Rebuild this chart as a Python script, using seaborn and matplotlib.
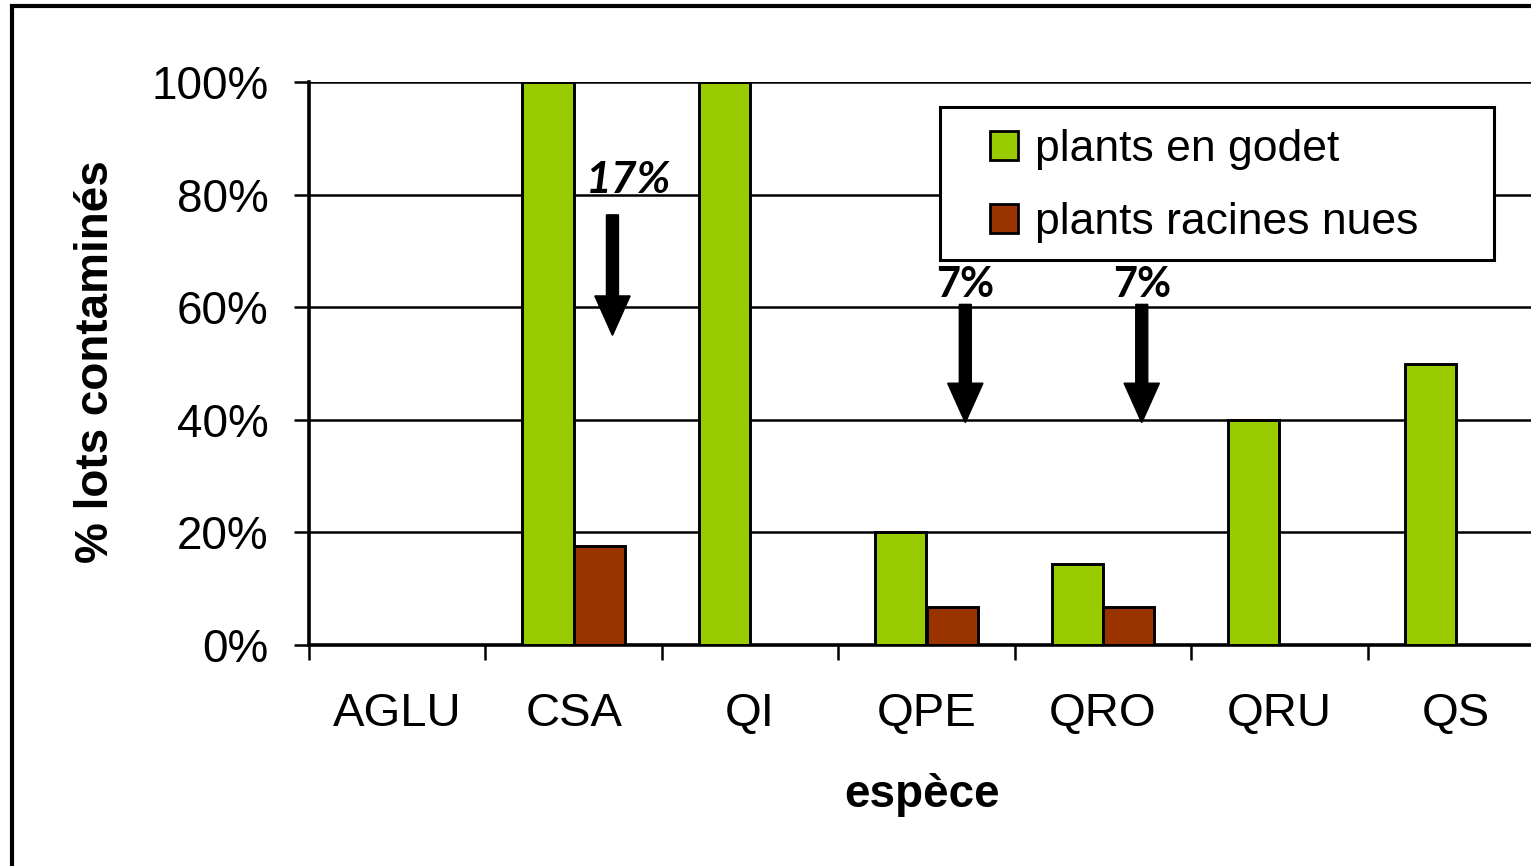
import pandas as pd
import matplotlib.pyplot as plt
import seaborn as sns
from matplotlib.patches import Rectangle, Patch

# données
especes = ['AGLU', 'CSA', 'QI', 'QPE', 'QRO', 'QRU', 'QS']
godet = [0, 100, 100, 20, 14.3, 40, 50]
racines_nues = [0, 17.6, 0, 6.7, 6.7, 0, 0]
series = ['plants en godet', 'plants racines nues']
couleurs = ['#99CC00', '#993300']
# annotations : (espèce, texte, italique)
notes = [('CSA', '17%', True), ('QPE', '7%', False), ('QRO', '7%', False)]

df = pd.DataFrame({
    'espece': especes * 2,
    'valeur': godet + racines_nues,
    'type': [series[0]] * len(especes) + [series[1]] * len(especes),
})

sns.set_style('white')
plt.rcParams['font.family'] = ['Liberation Sans', 'DejaVu Sans']
plt.rcParams['text.color'] = 'black'
plt.rcParams['axes.labelcolor'] = 'black'
plt.rcParams['xtick.color'] = 'black'
plt.rcParams['ytick.color'] = 'black'

W, H = 1531, 866
fig = plt.figure(figsize=(W / 100, H / 100), dpi=100)
ax = fig.add_axes([309 / W, 1 - 645 / H, 1235 / W, 563 / H])

sns.barplot(data=df, x='espece', y='valeur', hue='type', order=especes,
            hue_order=series, palette=couleurs, width=0.58,
            edgecolor='black', linewidth=2.1, saturation=1, ax=ax, zorder=3)

ax.set_ylim(0, 100)
ax.set_xlim(-0.5, len(especes) - 0.5)
ax.set_yticks(range(0, 101, 20))
ax.set_yticklabels([f'{v}%' for v in range(0, 101, 20)])
ax.yaxis.grid(True, color='black', linewidth=1.8, zorder=0)
ax.set_axisbelow(True)

# ticks entre les catégories
ax.set_xticks([i - 0.5 for i in range(len(especes) + 1)], minor=True)
ax.tick_params(axis='x', which='major', length=0, pad=34, labelsize=34)
ax.tick_params(axis='x', which='minor', length=11, width=1.8, direction='out',
               bottom=True, color='black')
ax.tick_params(axis='y', length=11, width=1.8, direction='out', left=True,
               color='black', pad=18, labelsize=33)

for side in ['top', 'right']:
    ax.spines[side].set_visible(False)
for side in ['left', 'bottom']:
    ax.spines[side].set_color('black')
    ax.spines[side].set_linewidth(2.6)

ax.set_xlabel('espèce', fontsize=33, fontweight='bold')
ax.set_ylabel('% lots contaminés', fontsize=33, fontweight='bold')
ax.xaxis.label.set_va('center')
ax.yaxis.label.set_va('center')
ax.xaxis.set_label_coords((922 - 309) / 1235, -(795 - 645) / 563)
ax.yaxis.set_label_coords(-(309 - 96) / 1235, (645 - 362) / 563)

# flèches et étiquettes
for esp, txt, ital in notes:
    i = especes.index(esp)
    if ital:
        ax.text(i + 0.31, 82.6, txt, fontsize=32, fontweight='bold', style='italic',
                family=['Lato', 'DejaVu Sans'], ha='center', va='center', zorder=5)
        y0, y1 = 76.4, 55.0
    else:
        ax.text(i + 0.22, 64.0, txt, fontsize=30, fontweight='bold',
                family=['Lato', 'DejaVu Sans'], ha='center', va='center', zorder=5)
        y0, y1 = 60.5, 39.5
    ax.arrow(i + 0.22, y0, 0, y1 - y0, width=0.068, head_width=0.2,
             head_length=7.0, length_includes_head=True, color='black', zorder=5)

# légende : cadre dessiné à part
handles = [Patch(facecolor=c, edgecolor='black', linewidth=2.0) for c in couleurs]
if ax.get_legend() is not None:
    ax.get_legend().remove()
leg = ax.legend(handles, series, loc='upper left',
                bbox_to_anchor=((990 - 309) / 1235, (645 - 129) / 563),
                fontsize=32, frameon=False, handlelength=0.63, handleheight=0.63,
                handletextpad=0.38, borderpad=0, labelspacing=0.73, borderaxespad=0)
leg.set_zorder(7)
ax.add_patch(Rectangle(((940 - 309) / 1235, (645 - 260) / 563), 554 / 1235, 153 / 563,
                       transform=ax.transAxes, facecolor='white', edgecolor='black',
                       linewidth=2.2, zorder=6, clip_on=False))

# cadre extérieur
fig.patches.append(Rectangle((12 / W, -0.1), 1.2, 1.1 - 6 / H, fill=False,
                             edgecolor='black', linewidth=3, transform=fig.transFigure))

plt.savefig('out.png', dpi=100)
